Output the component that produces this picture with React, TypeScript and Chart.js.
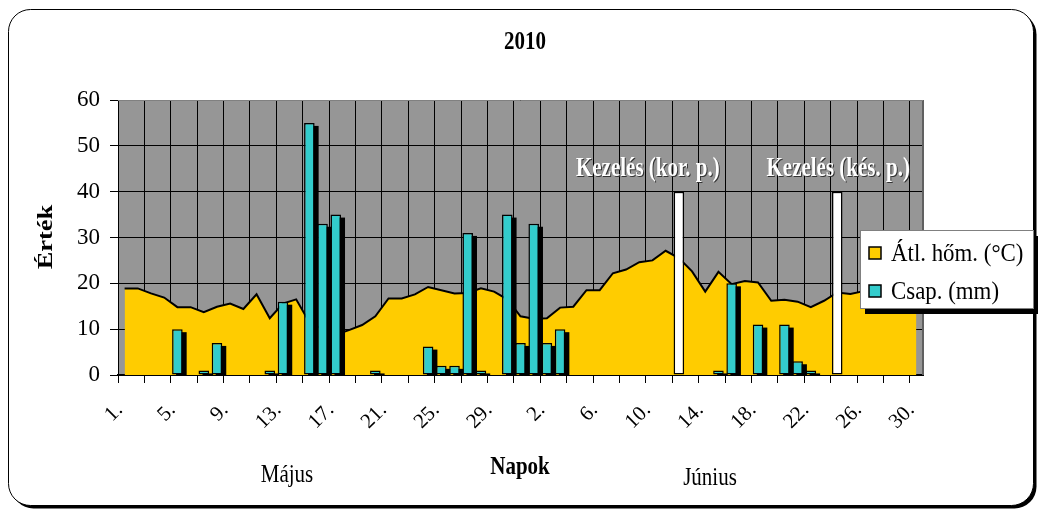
import React, { useEffect, useRef } from 'react';
import { Chart, registerables } from 'chart.js';

Chart.register(...registerables);

const mayDays = ["1.","2.","3.","4.","5.","6.","7.","8.","9.","10.","11.","12.","13.","14.","15.","16.","17.","18.","19.","20.","21.","22.","23.","24.","25.","26.","27.","28.","29.","30.","31."];
const juneDays = ["1.","2.","3.","4.","5.","6.","7.","8.","9.","10.","11.","12.","13.","14.","15.","16.","17.","18.","19.","20.","21.","22.","23.","24.","25.","26.","27.","28.","29.","30."];
const categories = [...mayDays, ...juneDays];

// Átl. hőm. (°C)
const temperature = [
  18.9, 18.9, 17.8, 16.9, 14.8, 14.8, 13.7, 14.9, 15.6, 14.4,
  17.6, 12.4, 15.6, 16.5, 11.5, 10.0, 8.8, 9.8, 10.9, 12.8,
  16.7, 16.7, 17.6, 19.2, 18.5, 17.8, 17.9, 18.9, 18.2, 16.5,
  12.8, 12.3, 12.4, 14.7, 14.9, 18.5, 18.5, 22.2, 23.0, 24.6,
  25.0, 27.1, 25.5, 22.6, 18.2, 22.5, 19.8, 20.5, 20.2, 16.2,
  16.4, 16.0, 14.8, 16.2, 18.0, 17.7, 18.3, 18.8, 19.2, 18.5,
  18.0
];

// Csap. (mm)
const precipitation = [
  null, null, null, null, 10, null, 1, 7, null, null,
  null, 1, 16, null, 55, 33, 35, null, null, 1,
  null, null, null, 6.2, 2, 2, 31, 1, null, 35,
  7, 33, 7, 10, null, null, null, null, null, null,
  null, null, null, null, null, 1, 20, null, 11, null,
  11, 3, 1, null, null, null, null, null, null, null,
  null
];

// Kezelés markers
const treatment = [
  null, null, null, null, null, null, null, null, null, null,
  null, null, null, null, null, null, null, null, null, null,
  null, null, null, null, null, null, null, null, null, null,
  null, null, null, null, null, null, null, null, null, null,
  null, null, 40, null, null, null, null, null, null, null,
  null, null, null, null, 40, null, null, null, null, null,
  null
];

const yMin = 0;
const yMax = 60;
const yStep = 10;

const chartTitle = "2010";
const yTitle = "Érték";
const xTitle = "Napok";
const monthLabels = ["Május", "Június"];
const seriesNames = ["Átl. hőm. (°C)", "Csap. (mm)"];
const treatmentLabels = ["Kezelés (kor. p.)", "Kezelés (kés. p.)"];

const YELLOW = '#FFCC00';
const CYAN = '#33CCCC';
const GRAY = '#969696';
const SERIF = '"Liberation Serif", "Times New Roman", serif';

function roundRectPath(ctx: CanvasRenderingContext2D, x: number, y: number, w: number, h: number, r: number) {
  ctx.beginPath();
  ctx.moveTo(x + r, y);
  ctx.lineTo(x + w - r, y);
  ctx.arcTo(x + w, y, x + w, y + r, r);
  ctx.lineTo(x + w, y + h - r);
  ctx.arcTo(x + w, y + h, x + w - r, y + h, r);
  ctx.lineTo(x + r, y + h);
  ctx.arcTo(x, y + h, x, y + h - r, r);
  ctx.lineTo(x, y + r);
  ctx.arcTo(x, y, x + r, y, r);
  ctx.closePath();
}

function tallText(ctx: CanvasRenderingContext2D, text: string, x: number, y: number, sy: number) {
  ctx.save();
  ctx.translate(x, y);
  ctx.scale(1, sy);
  ctx.fillText(text, 0, 0);
  ctx.restore();
}

const decorPlugin = {
  id: 'decor',
  beforeDraw(chart: any) {
    const ctx: CanvasRenderingContext2D = chart.ctx;
    const ca = chart.chartArea;
    ctx.save();
    roundRectPath(ctx, 11.5, 12.5, 1025, 496, 22);
    ctx.fillStyle = '#000';
    ctx.fill();
    roundRectPath(ctx, 8.5, 9.5, 1025, 496, 22);
    ctx.fillStyle = '#fff';
    ctx.fill();
    ctx.lineWidth = 1;
    ctx.strokeStyle = '#000';
    ctx.stroke();
    ctx.fillStyle = GRAY;
    ctx.fillRect(ca.left, ca.top, ca.right - ca.left, ca.bottom - ca.top);
    ctx.restore();
  },
  beforeDatasetDraw(chart: any, args: any) {
    if (args.index !== 0) return;
    const ctx: CanvasRenderingContext2D = chart.ctx;
    const ca = chart.chartArea;
    ctx.save();
    ctx.beginPath();
    ctx.rect(ca.left, ca.top, ca.right - ca.left, ca.bottom - ca.top);
    ctx.clip();
    ctx.fillStyle = '#000';
    args.meta.data.forEach((el: any, i: number) => {
      if (precipitation[i] == null) return;
      const p = el.getProps(['x', 'y', 'base', 'width'], true);
      ctx.fillRect(p.x - p.width / 2 + 4, p.y + 3, p.width, p.base - p.y);
    });
    ctx.restore();
  },
  afterDraw(chart: any) {
    const ctx: CanvasRenderingContext2D = chart.ctx;
    const ca = chart.chartArea;
    const xs = chart.scales.x;
    const ys = chart.scales.y;
    ctx.save();
    ctx.strokeStyle = '#606060';
    ctx.lineWidth = 2;
    ctx.beginPath();
    ctx.moveTo(ca.right, ca.top);
    ctx.lineTo(ca.right, ca.bottom);
    ctx.stroke();
    ctx.strokeStyle = '#808080';
    ctx.lineWidth = 1;
    ctx.beginPath();
    ctx.moveTo(ca.left, ca.top + 0.5);
    ctx.lineTo(ca.right, ca.top + 0.5);
    ctx.stroke();

    ctx.fillStyle = '#000';
    ctx.textAlign = 'center';
    ctx.textBaseline = 'middle';
    ctx.font = `bold 21px ${SERIF}`;
    tallText(ctx, chartTitle, 525, 42, 1.2);

    ctx.save();
    ctx.translate(46, 237);
    ctx.rotate(-Math.PI / 2);
    ctx.font = `bold 22px ${SERIF}`;
    ctx.scale(1.2, 1);
    ctx.fillText(yTitle, 0, 0);
    ctx.restore();

    ctx.font = `bold 21px ${SERIF}`;
    tallText(ctx, xTitle, 520, 467, 1.2);
    ctx.font = `21px ${SERIF}`;
    tallText(ctx, monthLabels[0], 287, 475, 1.2);
    tallText(ctx, monthLabels[1], 710, 478, 1.2);

    const tIdx: number[] = [];
    treatment.forEach((v, i) => { if (v != null) tIdx.push(i); });
    const offs = [-31, 1];
    ctx.font = `bold 21px ${SERIF}`;
    tIdx.forEach((idx, k) => {
      const cx = xs.getPixelForValue(idx) + offs[k];
      const cy = ys.getPixelForValue(45);
      ctx.fillStyle = '#333';
      tallText(ctx, treatmentLabels[k], cx + 1, cy + 1, 1.25);
      ctx.fillStyle = '#fff';
      tallText(ctx, treatmentLabels[k], cx, cy, 1.25);
    });

    const lx = 860, ly = 230, lw = 173, lh = 78;
    ctx.fillStyle = '#000';
    ctx.fillRect(lx + 5, ly + 6, lw, lh);
    ctx.fillStyle = '#fff';
    ctx.fillRect(lx, ly, lw, lh);
    ctx.strokeStyle = '#808080';
    ctx.lineWidth = 1;
    ctx.strokeRect(lx + 0.5, ly + 0.5, lw, lh);
    const colors = [YELLOW, CYAN];
    const rowsY = [253, 291];
    ctx.textAlign = 'left';
    ctx.font = `22px ${SERIF}`;
    seriesNames.forEach((name, i) => {
      ctx.fillStyle = colors[i];
      ctx.fillRect(869, rowsY[i] - 6, 12, 12);
      ctx.strokeStyle = '#000';
      ctx.lineWidth = 1.5;
      ctx.strokeRect(869, rowsY[i] - 6, 12, 12);
      ctx.fillStyle = '#000';
      ctx.save();
      ctx.translate(891, rowsY[i] + 1);
      ctx.scale(1.04, 1.15);
      ctx.fillText(name, 0, 0);
      ctx.restore();
    });
    ctx.restore();
  }
};

export default function App() {
  const ref = useRef<HTMLCanvasElement>(null);
  useEffect(() => {
    const canvas = ref.current;
    if (!canvas) return;
    const chart = new Chart(canvas, {
      type: 'bar',
      data: {
        labels: categories,
        datasets: [
          {
            type: 'bar',
            label: seriesNames[1],
            data: precipitation as any,
            backgroundColor: CYAN,
            borderColor: '#000',
            borderWidth: 1.5,
            borderSkipped: false,
            barPercentage: 0.8,
            categoryPercentage: 1,
            grouped: false,
            order: 1,
          } as any,
          {
            type: 'bar',
            label: 'Kezelés',
            data: treatment as any,
            backgroundColor: '#fff',
            borderColor: '#000',
            borderWidth: 1.5,
            borderSkipped: false,
            barPercentage: 0.8,
            categoryPercentage: 1,
            grouped: false,
            order: 1,
          } as any,
          {
            type: 'line',
            label: seriesNames[0],
            data: temperature,
            backgroundColor: YELLOW,
            borderColor: '#000',
            borderWidth: 2,
            fill: 'origin',
            pointRadius: 0,
            tension: 0,
            order: 3,
          } as any,
        ],
      },
      options: {
        responsive: false,
        animation: false,
        layout: { padding: { top: 100, right: 116, left: 0, bottom: 0 } },
        plugins: {
          legend: { display: false },
          title: { display: false },
          tooltip: { enabled: false },
        },
        scales: {
          x: {
            type: 'category',
            offset: true,
            grid: {
              offset: true,
              drawOnChartArea: true,
              color: (c: any) => (c.index % 2 === 0 ? '#000' : 'rgba(0,0,0,0)'),
              tickColor: (c: any) => (c.index % 2 === 0 ? '#000' : 'rgba(0,0,0,0)'),
              tickLength: 8,
              lineWidth: 1,
            },
            border: { display: true, color: '#000', width: 2 },
            ticks: {
              autoSkip: false,
              minRotation: 45,
              maxRotation: 45,
              padding: 15,
              labelOffset: -5,
              color: '#000',
              font: { family: SERIF, size: 21 },
              callback: (_v: any, index: number) => (index % 4 === 0 ? categories[index] : ''),
            },
            afterFit: (scale: any) => { scale.height = 135; },
          },
          y: {
            min: yMin,
            max: yMax,
            grid: { color: '#000', tickColor: '#000', tickLength: 8, lineWidth: 1 },
            border: { display: true, color: '#000', width: 1 },
            ticks: {
              stepSize: yStep,
              padding: 10,
              color: '#000',
              font: { family: SERIF, size: 23 },
            },
            afterFit: (scale: any) => { scale.width = 118; },
          },
        },
      },
      plugins: [decorPlugin],
    });
    return () => chart.destroy();
  }, []);
  return (
    <div style={{ position: 'fixed', left: 0, top: 0, width: 1039, height: 510, background: '#fff' }}>
      <canvas ref={ref} width={1039} height={510} style={{ display: 'block' }} />
    </div>
  );
}
